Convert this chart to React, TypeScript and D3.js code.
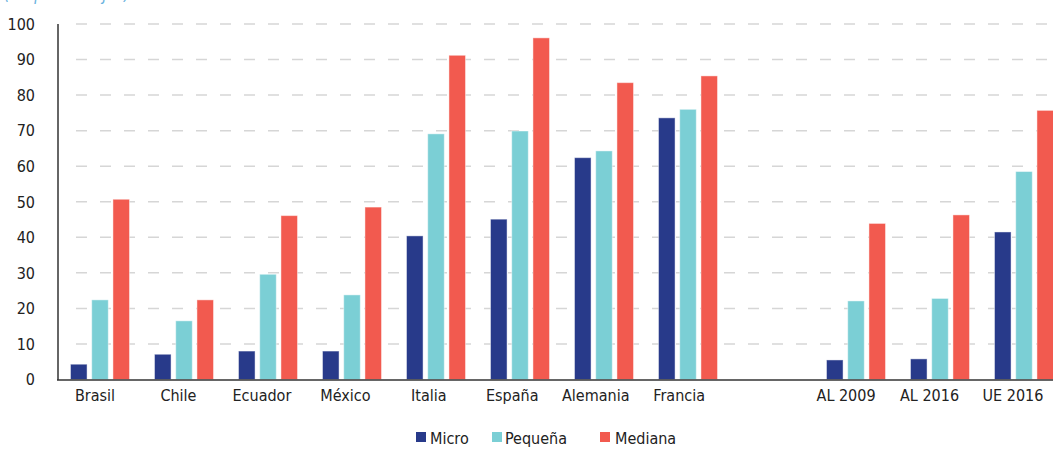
import React from "react";
import * as d3 from "d3";

const categories = ["Brasil", "Chile", "Ecuador", "México", "Italia", "España", "Alemania", "Francia", "", "AL 2009", "AL 2016", "UE 2016"];
const seriesNames = ["Micro", "Pequeña", "Mediana"];
const micro = [4.3, 7.1, 8.0, 8.0, 40.4, 45.1, 62.4, 73.6, NaN, 5.5, 5.8, 41.5];
const pequena = [22.4, 16.5, 29.6, 23.8, 69.1, 69.9, 64.3, 76.0, NaN, 22.1, 22.8, 58.5];
const mediana = [50.7, 22.4, 46.1, 48.5, 91.2, 96.1, 83.5, 85.4, NaN, 43.9, 46.3, 75.7];
const yTicks = [0, 10, 20, 30, 40, 50, 60, 70, 80, 90, 100];
const colors = ["#283A8A", "#7BCFD5", "#F25A4F"];

const W = 1053, H = 449;
const FONT = "'DejaVu Sans Condensed', 'Liberation Sans Narrow', sans-serif";

export default function App() {
  const values = [micro, pequena, mediana];
  const y = d3.scaleLinear().domain([0, 100]).range([379.5, 24]);
  const keys = categories.map((c, i) => String(i));
  const x0 = d3.scaleBand<string>().domain(keys).range([58, 1066]).padding(0);
  const xl = d3.scaleBand<string>().domain(keys).range([53.3, 1054.7]).padding(0);
  const x1 = d3.scaleBand<string>().domain(seriesNames).range([12.5, 71.5]).paddingInner(0.22).paddingOuter(0);

  return (
    <svg width={W} height={H} style={{ position: "absolute", left: 0, top: 0, background: "#fff" }} fontFamily={FONT}>
      <text x={4} y={0} fontSize={17} fontStyle="italic" fill="#6BB3DE">(En porcentajes)</text>
      {yTicks.map((t) => (
        <g key={t}>
          {t > 0 && (
            <line x1={76} x2={W} y1={y(t)} y2={y(t)} stroke="#d6d6d6" strokeWidth={1.5} strokeDasharray="11 13" />
          )}
          <text x={35} y={y(t)} dy="0.36em" textAnchor="end" fontSize={16} fill="#222">{t}</text>
        </g>
      ))}
      {categories.map((c, i) =>
        seriesNames.map((s, j) => {
          const v = values[j][i];
          if (!isFinite(v)) return null;
          return (
            <rect key={c + s} x={(x0(String(i)) as number) + (x1(s) as number)} y={y(v)} width={x1.bandwidth()} height={y(0) - y(v)}
              fill={colors[j]} stroke="#ffffff" strokeOpacity={0.45} strokeWidth={1} />
          );
        })
      )}
      <line x1={58} x2={58} y1={24} y2={380} stroke="#333" strokeWidth={1.5} />
      <line x1={57} x2={W} y1={380} y2={380} stroke="#333" strokeWidth={1.5} />
      {categories.map((c, i) => (
        <text key={"l" + i} x={(xl(String(i)) as number) + xl.bandwidth() / 2} y={401} textAnchor="middle" fontSize={16} fill="#222">{c}</text>
      ))}
      {seriesNames.map((s, j) => {
        const lx = [416, 492, 600][j];
        const tx = [430, 505, 615][j];
        return (
          <g key={s}>
            <rect x={lx} y={432} width={10} height={10} fill={colors[j]} />
            <text x={tx} y={444} fontSize={16} fill="#222">{s}</text>
          </g>
        );
      })}
    </svg>
  );
}
